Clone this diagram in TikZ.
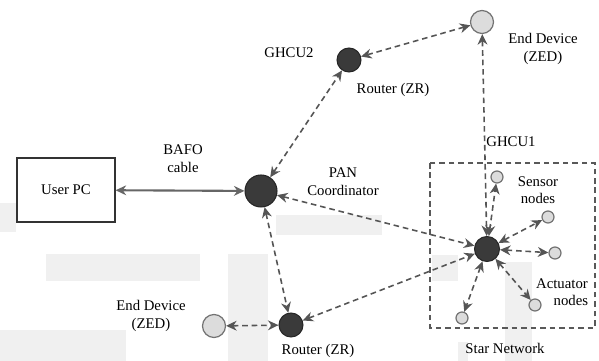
\documentclass[tikz,border=0pt]{standalone}
\usepackage{fontspec}
\setmainfont{Liberation Serif}
\usetikzlibrary{arrows.meta}
\tikzset{>={Stealth[length=6pt,width=5.6pt]}}
\definecolor{darknode}{HTML}{3A3A3A}
\definecolor{lightnode}{HTML}{DCDCDC}
\definecolor{linkgray}{HTML}{555555}
\definecolor{wmark}{HTML}{F0F0F0}
\tikzset{
  router/.style={circle,draw=black!85,fill=darknode,line width=0.6pt,inner sep=0pt,minimum size=0.48cm},
  coordnode/.style={router,minimum size=0.64cm},
  hubnode/.style={router,minimum size=0.5cm},
  enddev/.style={circle,draw=black!55,fill=lightnode,line width=0.7pt,inner sep=0pt,minimum size=0.46cm},
  leafnode/.style={enddev,minimum size=0.24cm},
  link/.style={<->,draw=linkgray,line width=0.9pt,dash pattern=on 3.2pt off 2.2pt},
  lbl/.style={font=\fontsize{8.4}{9.4}\selectfont,align=center,inner sep=1pt}
}

\begin{document}
\begin{tikzpicture}[x=0.02cm,y=-0.02cm]
\useasboundingbox (0,0) rectangle (599,361);
% watermark:
\fill[wmark] (0,203) rectangle (16,232);
\fill[wmark] (46,254) rectangle (200,281);
\fill[wmark] (0,330) rectangle (126,361);
\fill[wmark] (228,254) rectangle (268,361);
\fill[wmark] (276,215) rectangle (382,235);
\fill[wmark] (432,255) rectangle (458,281);
\fill[wmark] (505,262) rectangle (532,361);
\fill[wmark] (458,342) rectangle (468,361);
% user pc:
\node[draw=black!80,line width=0.7pt,minimum width=1.96cm,minimum height=1.28cm,lbl] (pc) at (66,190) {User PC};
% devices:
\node[coordnode] (pan) at (261,191) {};
\node[router] (zrtop) at (349,60) {};
\node[enddev] (zedtop) at (482,22) {};
\node[router] (zrbot) at (291,325) {};
\node[enddev] (zedbot) at (214,326) {};
\node[hubnode] (hub) at (487,249) {};
% star network leaves:
\node[leafnode] (s1) at (497,177) {};
\node[leafnode] (s2) at (548,217) {};
\node[leafnode] (a1) at (555,253) {};
\node[leafnode] (a2) at (535,305) {};
\node[leafnode] (a3) at (462,318) {};
% star network box:
\draw[draw=black!65,line width=0.8pt,dash pattern=on 3.2pt off 2.2pt] (430,163) rectangle (595,328);
% labels:
\node[lbl] (bafo) at (183,159) {BAFO\\[1pt]cable};
\node[lbl] (ghcu2) at (289,53) {GHCU2};
\node[lbl] (zrtoplbl) at (393,90) {Router (ZR)};
\node[lbl] (zedtoplbl) at (543,49) {End Device\\[1pt](ZED)};
\node[lbl] (panlbl) at (343,182) {PAN\\[1pt]Coordinator};
\node[lbl] (ghcu1) at (511,142) {GHCU1};
\node[lbl] (senslbl) at (538,190) {Sensor\\nodes};
\node[lbl] (actlbl) at (562,292) {Actuator\\\hspace*{1.2em}nodes};
\node[lbl] (starlbl) at (505,348) {Star Network};
\node[lbl] (zedbotlbl) at (151,316) {End Device\\[1pt](ZED)};
\node[lbl] (zrbotlbl) at (318,351) {Router (ZR)};
% links:
\draw[<->,draw=black!60,line width=1.2pt] (pc) -- (pan);
\draw[link] (pan) -- (zrtop);
\draw[link] (zrtop) -- (zedtop);
\draw[link] (zedtop) -- (hub);
\draw[link] (pan) -- (hub);
\draw[link] (pan) -- (zrbot);
\draw[link] (zrbot) -- (hub);
\draw[link] (zedbot) -- (zrbot);
\foreach \leaf in {s1,s2,a1,a2,a3}
  \draw[link] (hub) -- (\leaf);
\end{tikzpicture}
\end{document}
